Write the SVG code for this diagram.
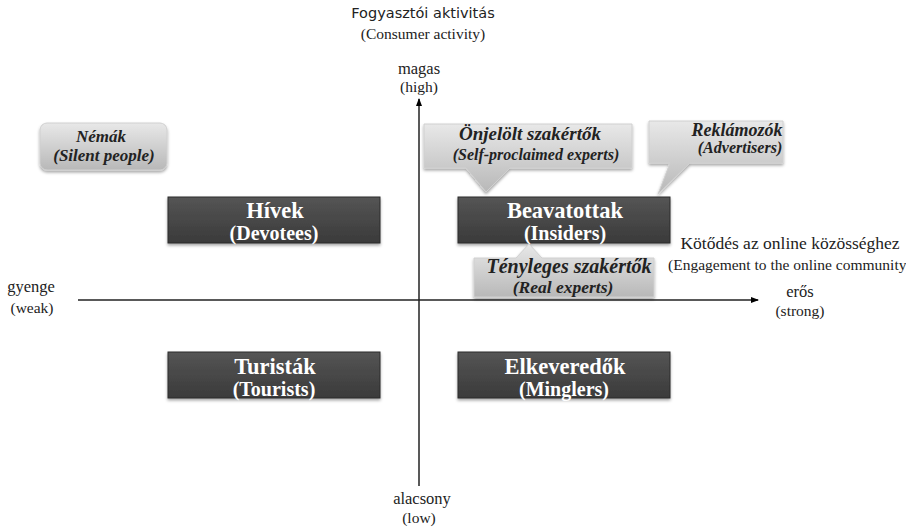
<svg xmlns="http://www.w3.org/2000/svg" width="906" height="529" viewBox="0 0 906 529">
<defs>
<linearGradient id="dark" x1="0" y1="0" x2="0" y2="1">
<stop offset="0" stop-color="#555"/><stop offset="1" stop-color="#3a3a3a"/>
</linearGradient>
<linearGradient id="light" x1="0" y1="0" x2="0" y2="1">
<stop offset="0" stop-color="#e8e8e8"/><stop offset="1" stop-color="#b8b8b8"/>
</linearGradient>
<marker id="arr" markerWidth="8" markerHeight="8" refX="7" refY="4" orient="auto" markerUnits="userSpaceOnUse">
<path d="M0,1 L8,4 L0,7 Z" fill="#000"/>
</marker>
<filter id="sh" x="-10%" y="-10%" width="120%" height="140%">
<feDropShadow dx="0" dy="2" stdDeviation="1.5" flood-color="#000" flood-opacity="0.35"/>
</filter>
</defs>
<style>
text{font-family:"Liberation Serif","Times New Roman",serif;text-anchor:middle}
.ax{fill:#222;font-size:16.5px}
.axs{fill:#222;font-size:15.5px}
.dk{fill:url(#dark);stroke:#2c2c2c;stroke-width:1;filter:url(#sh)}
.lt{fill:url(#light);stroke:#d0d0d0;stroke-width:1;filter:url(#sh)}
.wt{fill:#fff;font-weight:bold;font-size:22.5px}
.ws{fill:#fff;font-weight:bold;font-size:20px}
.it{fill:#222;font-weight:bold;font-style:italic;font-size:18px}
.is{fill:#222;font-weight:bold;font-style:italic;font-size:16px}
.line{stroke:#222;stroke-width:1.5;fill:none}
</style>
<g id="connectors">
<line class="line" x1="419" y1="486" x2="419" y2="99" marker-end="url(#arr)"/>
<line class="line" x1="78" y1="300" x2="758" y2="300" marker-end="url(#arr)"/>
</g>
<g id="axis-labels">
<text x="423" y="18" style="font-family:'DejaVu Sans',sans-serif;font-size:14.5px;fill:#222">Fogyasztói aktivitás</text>
<text class="axs" x="423" y="39">(Consumer activity)</text>
<text class="ax" x="419" y="74">magas</text>
<text class="axs" x="419" y="92">(high)</text>
<text class="ax" x="422" y="504">alacsony</text>
<text class="axs" x="419" y="523">(low)</text>
<text class="ax" x="31" y="292">gyenge</text>
<text class="axs" x="32" y="313">(weak)</text>
<text class="ax" x="800" y="297">erős</text>
<text class="axs" x="800" y="316">(strong)</text>
<text class="ax" x="790" y="249" style="font-size:17.5px">Kötődés az online közösséghez</text>
<text class="axs" x="668" y="270" style="text-anchor:start">(Engagement  to the online community</text>
</g>
<g id="nemak">
<rect class="lt" x="40" y="123" width="127" height="47" rx="7"/>
<text class="it" x="101" y="142" style="font-size:17px">Némák</text>
<text class="is" x="104" y="161" style="font-size:17px">(Silent people)</text>
</g>
<g id="hivek">
<rect class="dk" x="168" y="197" width="212" height="46"/>
<text class="wt" x="275" y="218">Hívek</text>
<text class="ws" x="274" y="240">(Devotees)</text>
</g>
<g id="beavatottak">
<rect class="dk" x="458" y="197" width="212" height="46"/>
<text class="wt" x="565" y="218">Beavatottak</text>
<text class="ws" x="565" y="240">(Insiders)</text>
</g>
<g id="turistak">
<rect class="dk" x="168" y="352" width="212" height="46"/>
<text class="wt" x="275" y="374">Turisták</text>
<text class="ws" x="274" y="396">(Tourists)</text>
</g>
<g id="elkeveredok">
<rect class="dk" x="458" y="352" width="212" height="46"/>
<text class="wt" x="565" y="374">Elkeveredők</text>
<text class="ws" x="564" y="396">(Minglers)</text>
</g>
<g id="onjelolt">
<path class="lt" d="M424,124 H632 V168 H510 L486,192 L466,168 H424 Z"/>
<text class="it" x="530" y="140" style="font-size:19px">Önjelölt szakértők</text>
<text class="is" x="536" y="160">(Self-proclaimed experts)</text>
</g>
<g id="reklamozok">
<path class="lt" d="M649,121 H783 V163 H690 L658,194 L670,163 H649 Z"/>
<text class="it" x="737" y="136">Reklámozók</text>
<text class="is" x="740" y="153">(Advertisers)</text>
</g>
<g id="tenyleges">
<path class="lt" d="M474,258 H516 L529,244 L542,258 H654 V297 H474 Z"/>
<text class="it" x="569" y="273" style="font-size:20px">Tényleges szakértők</text>
<text class="is" x="563" y="293" style="font-size:17.5px">(Real experts)</text>
</g>
</svg>
